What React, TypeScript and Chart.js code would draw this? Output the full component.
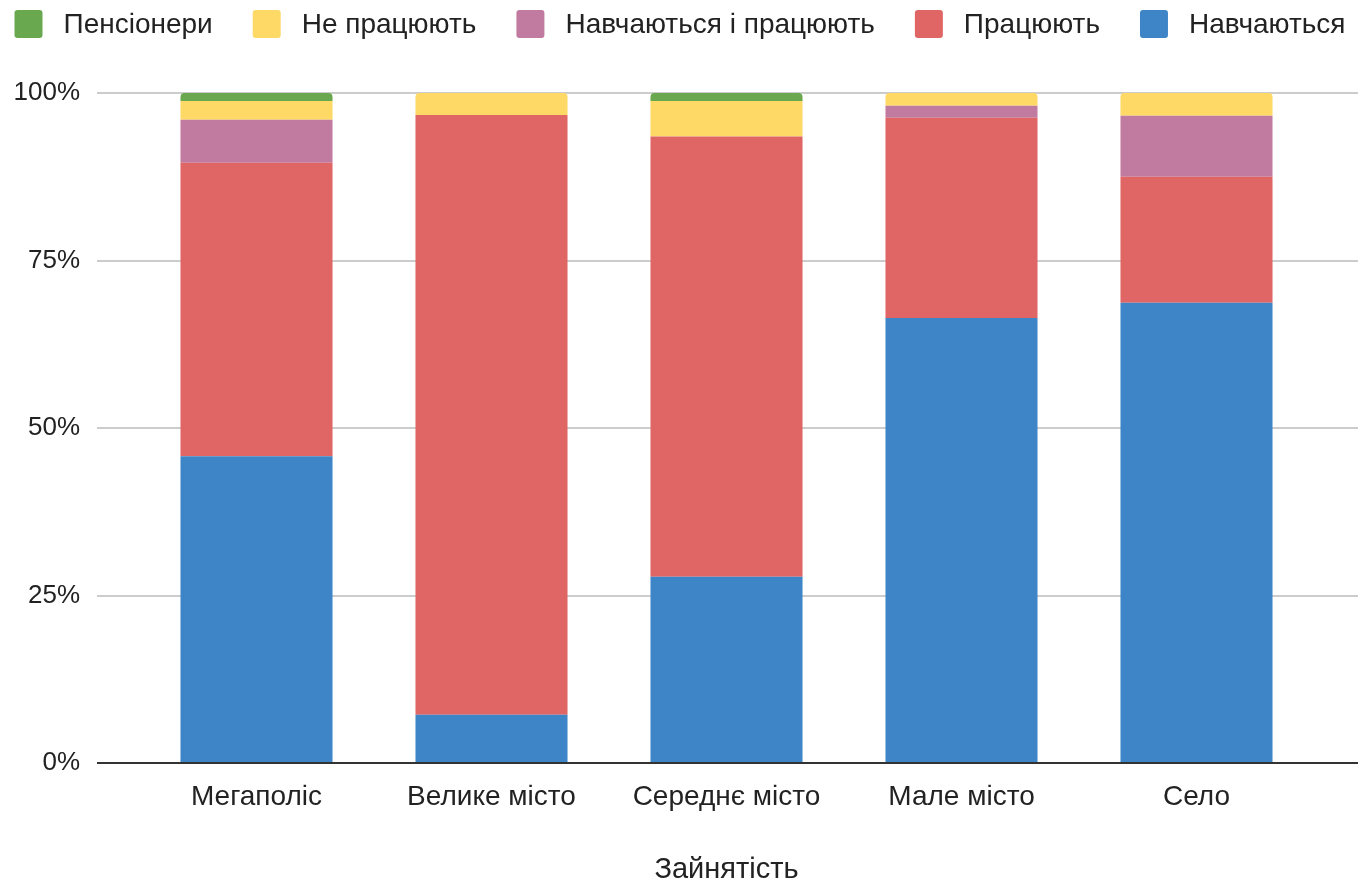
import React, { useEffect, useRef } from "react";
import { Chart, registerables } from "chart.js";

Chart.register(...registerables);

const categories = ["Мегаполіс", "Велике місто", "Середнє місто", "Мале місто", "Село"];
const seriesNames = ["Навчаються", "Працюють", "Навчаються і працюють", "Не працюють", "Пенсіонери"];
const studying = [45.8, 7.2, 27.8, 66.4, 68.7];
const working = [43.8, 89.5, 65.7, 29.9, 18.8];
const studyingAndWorking = [6.4, 0, 0, 1.8, 9.1];
const notWorking = [2.8, 3.3, 5.3, 1.9, 3.4];
const retired = [1.2, 0, 1.2, 0, 0];
const yTicks = [0, 25, 50, 75, 100];
const axisTitle = "Зайнятість";
const colors = ["#3d85c6", "#e06666", "#c27ba0", "#ffd966", "#6aa84f"];

const FONT = "'Liberation Sans', Arial, sans-serif";

export default function App() {
  const ref = useRef<HTMLCanvasElement | null>(null);

  useEffect(() => {
    const canvas = ref.current;
    if (!canvas) return;
    const values = [studying, working, studyingAndWorking, notWorking, retired];
    const topIndex = categories.map((_, i) => {
      let t = 0;
      values.forEach((v, d) => { if (v[i] > 0) t = d; });
      return t;
    });

    const gridPlugin = {
      id: "customGrid",
      beforeDatasetsDraw(chart: any) {
        const { ctx } = chart;
        const y = chart.scales.y;
        ctx.save();
        ctx.strokeStyle = "#cccccc";
        ctx.lineWidth = 2;
        yTicks.forEach((v) => {
          if (v === 0) return;
          const py = Math.round(y.getPixelForValue(v));
          ctx.beginPath();
          ctx.moveTo(97, py);
          ctx.lineTo(1358, py);
          ctx.stroke();
        });
        ctx.restore();
      },
      afterDatasetsDraw(chart: any) {
        const { ctx } = chart;
        const y = chart.scales.y;
        const py = Math.round(y.getPixelForValue(0));
        ctx.save();
        ctx.strokeStyle = "#333333";
        ctx.lineWidth = 2;
        ctx.beginPath();
        ctx.moveTo(97, py);
        ctx.lineTo(1358, py);
        ctx.stroke();
        ctx.restore();
      },
      afterDraw(chart: any) {
        const { ctx } = chart;
        ctx.save();
        ctx.font = `28px ${FONT}`;
        ctx.textBaseline = "middle";
        const box = 28;
        const gapText = 21;
        const gapItem = 40;
        const order = [4, 3, 2, 1, 0];
        const widths = order.map((d) => ctx.measureText(seriesNames[d]).width);
        const total = widths.reduce((a, w) => a + box + gapText + w, 0) + gapItem * (order.length - 1);
        let x = (chart.width - total) / 2;
        const cy = 24;
        order.forEach((d, k) => {
          ctx.fillStyle = colors[d];
          ctx.beginPath();
          (ctx as any).roundRect(x, cy - box / 2, box, box, 3);
          ctx.fill();
          x += box + gapText;
          ctx.fillStyle = "#222222";
          ctx.fillText(seriesNames[d], x, cy + 1);
          x += widths[k] + gapItem;
        });
        ctx.restore();
      },
    };

    const chart = new Chart(canvas, {
      type: "bar",
      data: {
        labels: categories,
        datasets: values.map((v, d) => ({
          label: seriesNames[d],
          data: v,
          backgroundColor: colors[d],
          borderWidth: 0,
          borderSkipped: false,
          borderRadius: (c: any) =>
            topIndex[c.dataIndex] === d ? { topLeft: 4, topRight: 4, bottomLeft: 0, bottomRight: 0 } : 0,
          categoryPercentage: 0.647,
          barPercentage: 1,
        })),
      },
      options: {
        animation: false,
        responsive: false,
        maintainAspectRatio: false,
        layout: { padding: { top: 93, right: 46, bottom: 0, left: 0 } },
        plugins: {
          legend: { display: false },
          tooltip: { enabled: false },
        },
        scales: {
          x: {
            stacked: true,
            grid: { display: false, drawTicks: false },
            border: { display: false },
            ticks: { color: "#222222", font: { size: 28, family: FONT }, padding: 17, maxRotation: 0 },
            title: { display: true, text: axisTitle, color: "#222222", font: { size: 29, family: FONT, lineHeight: 1 }, padding: { top: 0, bottom: 0 } },
            afterFit: (s: any) => { s.height = 121; },
          },
          y: {
            stacked: true,
            min: 0,
            max: 100,
            grid: { display: false, drawTicks: false },
            border: { display: false },
            afterBuildTicks: (s: any) => { s.ticks = yTicks.map((v) => ({ value: v })); },
            ticks: {
              color: "#222222",
              font: { size: 26, family: FONT },
              padding: 59,
              callback: (v: any) => `${v}%`,
            },
            afterFit: (s: any) => { s.width = 139; },
          },
        },
      },
      plugins: [gridPlugin],
    });
    return () => chart.destroy();
  }, []);

  return (
    <div style={{ position: "fixed", left: 0, top: 0, width: 1360, height: 884, background: "#ffffff" }}>
      <canvas ref={ref} width={1360} height={884} style={{ display: "block", width: 1360, height: 884 }} />
    </div>
  );
}
